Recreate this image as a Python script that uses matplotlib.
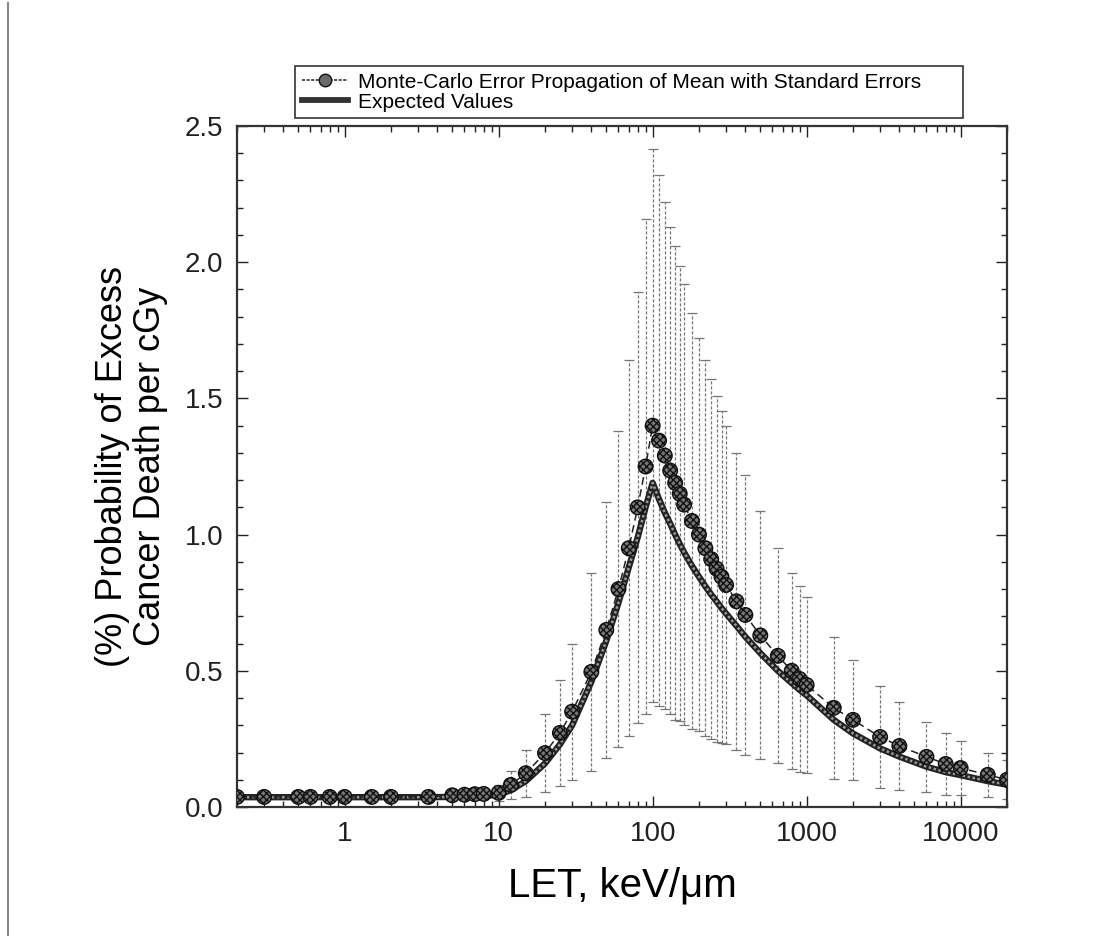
import numpy as np
import matplotlib
matplotlib.use("Agg")
import matplotlib.pyplot as plt
from matplotlib.lines import Line2D
from matplotlib.ticker import FixedLocator, NullFormatter, MultipleLocator

plt.rcParams['font.family'] = ['Liberation Sans', 'DejaVu Sans']
plt.rcParams['hatch.linewidth'] = 1.0

# LET values (keV/um) of the Monte-Carlo points
let_vals = [0.2, 0.3, 0.5, 0.6, 0.8, 1.0, 1.5, 2, 3.5,
            5, 6, 7, 8, 10, 12, 15, 20, 25, 30,
            40, 50, 60, 70, 80, 90, 100,
            110, 120, 130, 140, 150, 160,
            180, 200, 220, 240, 260, 280, 300,
            350, 400, 500, 650, 800, 900, 1000,
            1500, 2000, 3000, 4000, 6000, 8000, 10000, 15000, 20000]

# Monte-Carlo mean (%)
mc_mean = [0.037, 0.037, 0.037, 0.037, 0.037, 0.037, 0.037, 0.037, 0.037,
           0.043, 0.045, 0.047, 0.048, 0.052, 0.081, 0.124, 0.198, 0.272, 0.35,
           0.496, 0.65, 0.80, 0.95, 1.10, 1.25, 1.40,
           1.345, 1.29, 1.235, 1.19, 1.15, 1.11,
           1.05, 1.0, 0.95, 0.91, 0.875, 0.845, 0.815,
           0.755, 0.705, 0.63, 0.555, 0.50, 0.47, 0.448,
           0.364, 0.32, 0.257, 0.224, 0.184, 0.158, 0.143, 0.118, 0.10]

# standard errors (symmetric)
mc_err = [0.002, 0.002, 0.002, 0.002, 0.002, 0.002, 0.002, 0.002, 0.003,
          0.012, 0.014, 0.015, 0.016, 0.03, 0.05, 0.087, 0.143, 0.195, 0.25,
          0.364, 0.47, 0.58, 0.69, 0.79, 0.91, 1.015,
          0.975, 0.93, 0.895, 0.87, 0.835, 0.81,
          0.765, 0.72, 0.69, 0.66, 0.635, 0.61, 0.585,
          0.545, 0.515, 0.455, 0.395, 0.36, 0.34, 0.322,
          0.261, 0.22, 0.188, 0.162, 0.129, 0.114, 0.10, 0.08, 0.072]

# expected values (%)
expected = [0.036, 0.036, 0.036, 0.036, 0.036, 0.036, 0.036, 0.036, 0.036,
            0.037, 0.038, 0.039, 0.040, 0.045, 0.062, 0.095, 0.16, 0.23, 0.30,
            0.46, 0.61, 0.75, 0.88, 0.99, 1.10, 1.19,
            1.13, 1.08, 1.04, 1.0, 0.965, 0.935,
            0.885, 0.845, 0.81, 0.78, 0.755, 0.73, 0.71,
            0.665, 0.625, 0.565, 0.50, 0.455, 0.43, 0.41,
            0.32, 0.27, 0.215, 0.185, 0.148, 0.128, 0.117, 0.095, 0.082]

x_ticks = [1, 10, 100, 1000, 10000]
x_tick_labels = ['1', '10', '100', '1000', '10000']

fig = plt.figure(figsize=(11.15, 9.36), dpi=100)
ax = fig.add_axes([237 / 1115, 1 - 807 / 936, (1007 - 237) / 1115, (807 - 126) / 936])

# error bars
eb = ax.errorbar(let_vals, mc_mean, yerr=mc_err, fmt='none', ecolor='#777777',
                 elinewidth=0.9, capsize=3.8, capthick=0.9, zorder=1)
for lc in eb[2]:
    lc.set_linestyle((0, (2.5, 1.5)))

# expected values: thick hatched-looking line
ax.plot(let_vals, expected, color='#222222', lw=4.6, solid_capstyle='butt', zorder=2)
ax.plot(let_vals, expected, color='#9a9a9a', lw=1.8, linestyle=(0, (1, 1)), zorder=3)

# Monte-Carlo means: dashed line + hatched circles
ax.plot(let_vals, mc_mean, color='#222222', lw=1.1, linestyle=(0, (5, 3)), zorder=4)
ax.scatter(let_vals, mc_mean, s=110, facecolor='#777777', edgecolor='#111111',
           hatch='xxxxx', linewidths=1.0, zorder=5)

ax.set_xscale('log')
ax.set_xlim(0.2, 20000)
ax.set_ylim(0, 2.5)
ax.set_xticks(x_ticks)
ax.set_xticklabels(x_tick_labels)
ax.xaxis.set_minor_locator(FixedLocator(
    [m * 10.0 ** e for e in range(-1, 5) for m in range(2, 10) if 0.2 <= m * 10.0 ** e <= 20000]))
ax.xaxis.set_minor_formatter(NullFormatter())
ax.yaxis.set_major_locator(MultipleLocator(0.5))
ax.yaxis.set_minor_locator(MultipleLocator(0.1))
ax.yaxis.set_major_formatter(plt.FuncFormatter(lambda v, p: f"{v:.1f}"))

ax.tick_params(which='both', direction='in', top=True, right=True, colors='#222222')
ax.tick_params(which='major', length=8, width=1.0, labelsize=20, pad=10)
ax.tick_params(which='minor', length=4, width=1.0)
for s in ax.spines.values():
    s.set_linewidth(1.6)
    s.set_color('#333333')

ax.set_xlabel('LET, keV/\u03bcm', fontsize=29, labelpad=14)
ax.set_ylabel('(%) Probability of Excess\nCancer Death per cGy', fontsize=26,
              labelpad=12, linespacing=1.1)

# legend
h_mc = Line2D([], [], color='#222222', lw=1.1, linestyle=(0, (2, 1)), marker='o',
              markersize=9, markerfacecolor='#6a6a6a', markeredgecolor='#111111')
h_ex = Line2D([], [], color='#333333', lw=4.2)
leg = fig.legend([h_mc, h_ex],
                 ['Monte-Carlo Error Propagation of Mean with Standard Errors', 'Expected Values'],
                 loc='upper left', bbox_to_anchor=(295 / 1115, 1 - 115 / 936, 668 / 1115, 49 / 936),
                 bbox_transform=fig.transFigure, mode='expand', fontsize=15, frameon=True,
                 fancybox=False, borderaxespad=0, handlelength=2.2, handletextpad=0.5,
                 borderpad=0.32, labelspacing=0.05)
leg.get_frame().set_edgecolor('black')
leg.get_frame().set_linewidth(1.2)

# grey border line at left edge of the page
fig.add_artist(Line2D([8 / 1115, 8 / 1115], [0, 1 - 3 / 936], color='#888888', lw=1.5))

fig.savefig('out.png', dpi=100)
